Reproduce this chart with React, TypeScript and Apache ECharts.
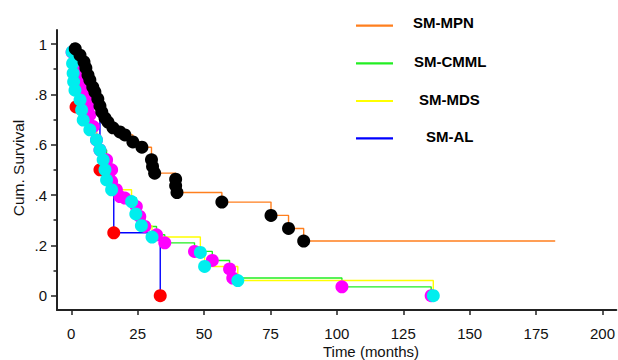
import React, { useEffect, useRef } from "react";
import * as echarts from "echarts";

const groupNames = ["SM-MPN", "SM-CMML", "SM-MDS", "SM-AL"];
const lineColors = ["#ff7f1e", "#22ee22", "#ffff00", "#0000ff"];
const markerColors = ["#000000", "#ff00ff", "#00eeee", "#ff0000"];

// event points: [months, cumulative survival]
const mpnEvents: number[][] = [
  [1.5, 0.981], [3.3, 0.956], [4.8, 0.929], [5.5, 0.905], [6.3, 0.877],
  [7.0, 0.857], [8.1, 0.829], [8.9, 0.81], [10.0, 0.782], [10.8, 0.754],
  [11.5, 0.73], [12.7, 0.706], [13.8, 0.69], [15.7, 0.667], [18.3, 0.651],
  [20.2, 0.639], [23.2, 0.611], [26.6, 0.59], [30.2, 0.54], [30.6, 0.513],
  [31.4, 0.487], [39.3, 0.463], [39.3, 0.437], [39.8, 0.41], [56.7, 0.372],
  [75.2, 0.319], [81.8, 0.267], [87.5, 0.217],
];
const mpnLastFollowUp = 182.2;

const cmmlEvents: number[][] = [
  [0.3, 0.968], [1.2, 0.92], [2.4, 0.88], [3.6, 0.845], [4.8, 0.81],
  [5.8, 0.791], [6.4, 0.751], [7.0, 0.718], [8.3, 0.672], [9.5, 0.619],
  [10.8, 0.579], [13.3, 0.54], [15.2, 0.5], [15.2, 0.454], [17.0, 0.421],
  [18.3, 0.394], [20.2, 0.388], [24.5, 0.354], [25.8, 0.315], [27.7, 0.275],
  [32.1, 0.242], [35.2, 0.21], [46.4, 0.176], [53.1, 0.14], [59.6, 0.106],
  [60.8, 0.07], [101.9, 0.035], [135.5, 0],
];

const mdsEvents: number[][] = [
  [0.3, 0.969], [0.5, 0.923], [0.7, 0.884], [0.9, 0.85], [1.4, 0.817],
  [3.3, 0.778], [3.9, 0.738], [4.5, 0.698], [7.0, 0.659], [9.5, 0.619],
  [10.8, 0.579], [12.0, 0.54], [12.7, 0.5], [13.3, 0.46], [15.2, 0.421],
  [22.7, 0.374], [24.3, 0.325], [26.4, 0.278], [30.4, 0.233], [48.6, 0.172],
  [50.2, 0.116], [62.7, 0.06], [136.3, 0],
];

const alEvents: number[][] = [
  [1.8, 0.75], [10.8, 0.5], [16.0, 0.25], [33.5, 0],
];

const xTicks = [0, 25, 50, 75, 100, 125, 150, 175, 200];
const yTicks = [0, 0.2, 0.4, 0.6, 0.8, 1];
const yMinorTicks = [0.1, 0.3, 0.5, 0.7, 0.9];

const FONT = '"Liberation Sans", Arial, sans-serif';

function stepData(events: number[][], tail?: number): number[][] {
  const d = [[0, 1], ...events];
  if (tail !== undefined) d.push([tail, events[events.length - 1][1]]);
  return d;
}

export default function App() {
  const ref = useRef<HTMLDivElement>(null);

  useEffect(() => {
    document.body.style.margin = "0";
    if (!ref.current) return;
    const chart = echarts.init(ref.current, undefined, { renderer: "svg" });

    const allEvents = [mpnEvents, cmmlEvents, mdsEvents, alEvents];
    const lines = [
      stepData(mpnEvents, mpnLastFollowUp),
      stepData(cmmlEvents),
      stepData(mdsEvents),
      stepData(alEvents),
    ];

    const lineSeries = groupNames.map((name, i) => ({
      name,
      type: "line",
      step: "end",
      data: lines[i],
      symbol: "none",
      lineStyle: { color: lineColors[i], width: 1.4 },
      z: 2,
      silent: true,
    }));

    // draw order of markers: AL, CMML, MDS, MPN
    const markerOrder = [3, 1, 2, 0];
    const markerSeries = markerOrder.map((i) => ({
      name: groupNames[i] + " events",
      type: "scatter",
      data: allEvents[i],
      symbol: "circle",
      symbolSize: 13,
      itemStyle: { color: markerColors[i], opacity: 1 },
      z: 3,
      silent: true,
    }));

    const legendTextX = [413, 414, 419, 426];
    const legendTextY = [22, 61, 99, 136];
    const legendLineY = [25.7, 63.3, 101, 138.3];

    const legendGraphics: any[] = [];
    groupNames.forEach((name, i) => {
      legendGraphics.push({
        type: "line",
        shape: { x1: 356, y1: legendLineY[i], x2: 393, y2: legendLineY[i] },
        style: { stroke: lineColors[i], lineWidth: 2.2 },
      });
      legendGraphics.push({
        type: "text",
        x: legendTextX[i],
        y: legendTextY[i],
        style: {
          text: name,
          fill: "#000",
          fontSize: 15,
          fontWeight: "bold",
          fontFamily: FONT,
          align: "left",
          verticalAlign: "middle",
          textAlign: "left",
          textVerticalAlign: "middle",
        },
      });
    });

    const option: any = {
      animation: false,
      backgroundColor: "#fff",
      grid: { left: 57, right: 0, top: 30, bottom: 50, containLabel: false },
      xAxis: {
        type: "value",
        min: -5.37,
        max: 205.2,
        axisLine: { show: true, onZero: false, lineStyle: { color: "#222", width: 2 } },
        axisTick: {
          show: true,
          customValues: xTicks,
          length: 5,
          lineStyle: { color: "#222", width: 1.5 },
        },
        axisLabel: {
          customValues: xTicks,
          fontSize: 15,
          color: "#111",
          fontFamily: FONT,
          margin: 16,
          formatter: (v: number) => String(v),
        },
        splitLine: { show: false },
      },
      yAxis: [
        {
          type: "value",
          min: -0.057,
          max: 1.056,
          axisLine: { show: true, onZero: false, lineStyle: { color: "#222", width: 2 } },
          axisTick: {
            show: true,
            customValues: yTicks,
            length: 6,
            lineStyle: { color: "#222", width: 1.5 },
          },
          axisLabel: {
            customValues: yTicks,
            fontSize: 15,
            color: "#111",
            fontFamily: FONT,
            margin: 10,
            formatter: (v: number) =>
              v === 0 ? "0" : v === 1 ? "1" : v.toFixed(1).replace(/^0/, ""),
          },
          splitLine: { show: false },
        },
        {
          type: "value",
          min: -0.057,
          max: 1.056,
          position: "left",
          axisLine: { show: false, onZero: false },
          axisTick: {
            show: true,
            customValues: yMinorTicks,
            length: 3.5,
            lineStyle: { color: "#222", width: 1.5 },
          },
          axisLabel: { show: false },
          splitLine: { show: false },
        },
      ],
      series: [...lineSeries, ...markerSeries],
      graphic: [
        {
          type: "text",
          x: 18,
          y: 168,
          rotation: Math.PI / 2,
          style: {
            text: "Cum. Survival",
            fill: "#111",
            fontSize: 15.5,
            fontFamily: FONT,
            align: "center",
            verticalAlign: "middle",
            textAlign: "center",
            textVerticalAlign: "middle",
          },
        },
        {
          type: "text",
          x: 371,
          y: 351,
          style: {
            text: "Time (months)",
            fill: "#111",
            fontSize: 15,
            fontFamily: FONT,
            align: "center",
            verticalAlign: "middle",
            textAlign: "center",
            textVerticalAlign: "middle",
          },
        },
        ...legendGraphics,
      ],
    };

    chart.setOption(option);
    return () => chart.dispose();
  }, []);

  return <div ref={ref} style={{ width: 618, height: 360 }} />;
}
